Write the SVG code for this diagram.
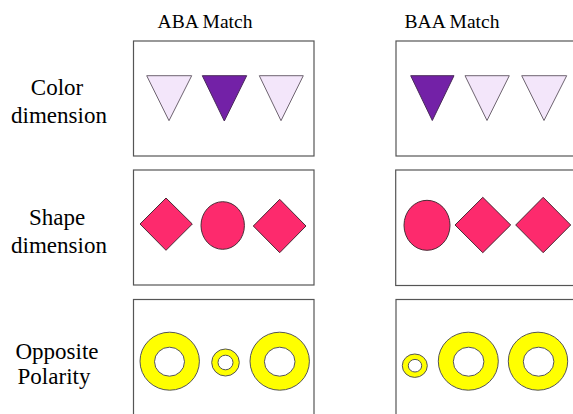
<svg xmlns="http://www.w3.org/2000/svg" width="573" height="414" viewBox="0 0 573 414">
<style>
.t{font-family:"Liberation Serif","Times New Roman",serif;fill:#000;text-anchor:middle}
.h{font-size:19.5px}
.l{font-size:23px}
.box{fill:#fff;stroke:#555;stroke-width:1.2}
.lt{fill:#f3e6fa;stroke:#6e6470;stroke-width:1}
.dk{fill:#7321a7;stroke:#4a2a5a;stroke-width:1}
.pk{fill:#fd2a6d;stroke:#4a2a35;stroke-width:1}
.ring{fill:#ffff00;stroke:#555;stroke-width:1;fill-rule:evenodd}
</style>
<rect width="573" height="414" fill="#fff"/>
<g id="headers">
<text class="t h" x="205" y="28">ABA Match</text>
<text class="t h" x="452" y="28">BAA Match</text>
</g>
<g id="row-labels">
<text class="t l" x="57" y="95">Color</text>
<text class="t l" x="59" y="122.5">dimension</text>
<text class="t l" x="57" y="225">Shape</text>
<text class="t l" x="59" y="252.5">dimension</text>
<text class="t l" x="57" y="359">Opposite</text>
<text class="t l" x="54" y="384">Polarity</text>
</g>
<g id="color-aba">
<rect class="box" x="133.5" y="41" width="180.5" height="115"/>
<polygon class="lt" points="146.7,75.7 191.7,75.7 169,120.7"/>
<polygon class="dk" points="202.3,75.7 246.7,75.7 224.3,121"/>
<polygon class="lt" points="259.3,75.7 303.3,75.7 281,120.7"/>
</g>
<g id="color-baa">
<rect class="box" x="396" y="41" width="190" height="115"/>
<polygon class="dk" points="410.7,75.7 454,75.7 432.3,120.5"/>
<polygon class="lt" points="465,75.7 509.3,75.7 487,120.5"/>
<polygon class="lt" points="521.7,75.7 566.7,75.7 544,120.5"/>
</g>
<g id="shape-aba">
<rect class="box" x="133.5" y="170" width="180.5" height="115"/>
<polygon class="pk" points="166,198 192.3,224 166,250.3 140,224"/>
<ellipse class="pk" cx="222.7" cy="225.5" rx="21.7" ry="23.8"/>
<polygon class="pk" points="279.7,199.3 306,226 279.7,252.7 253.3,226"/>
</g>
<g id="shape-baa">
<rect class="box" x="395.7" y="170" width="190" height="115.5"/>
<ellipse class="pk" cx="427" cy="225.3" rx="23" ry="25"/>
<polygon class="pk" points="482.8,197.3 510.7,225 482.8,252.7 455,225"/>
<polygon class="pk" points="543.2,197.3 570.7,225 543.2,252.7 515.7,225"/>
</g>
<g id="polarity-aba">
<rect class="box" x="133.5" y="299.5" width="180.5" height="130"/>
<path class="ring" d="M140,361.2a29.7,29 0 1,0 59.4,0a29.7,29 0 1,0 -59.4,0ZM154.5,361.7a15,14.5 0 1,0 30,0a15,14.5 0 1,0 -30,0Z"/>
<path class="ring" d="M211.7,362.5a13.8,13.5 0 1,0 27.6,0a13.8,13.5 0 1,0 -27.6,0ZM218,362.5a7.5,7.3 0 1,0 15,0a7.5,7.3 0 1,0 -15,0Z"/>
<path class="ring" d="M250,361.2a29.7,29 0 1,0 59.4,0a29.7,29 0 1,0 -59.4,0ZM264.4,361.7a15.3,14.5 0 1,0 30.6,0a15.3,14.5 0 1,0 -30.6,0Z"/>
</g>
<g id="polarity-baa">
<rect class="box" x="396" y="299.5" width="190" height="130"/>
<path class="ring" d="M402.3,365.7a12.5,11.7 0 1,0 25,0a12.5,11.7 0 1,0 -25,0ZM408.3,365.7a6.7,6.3 0 1,0 13.4,0a6.7,6.3 0 1,0 -13.4,0Z"/>
<path class="ring" d="M438.3,361.2a30,29 0 1,0 60,0a30,29 0 1,0 -60,0ZM453.3,361.7a15.3,14.5 0 1,0 30.6,0a15.3,14.5 0 1,0 -30.6,0Z"/>
<path class="ring" d="M508.3,361.2a29.7,29 0 1,0 59.4,0a29.7,29 0 1,0 -59.4,0ZM523.3,361.7a15.3,14.5 0 1,0 30.6,0a15.3,14.5 0 1,0 -30.6,0Z"/>
</g>
<g id="connectors"></g>
</svg>
